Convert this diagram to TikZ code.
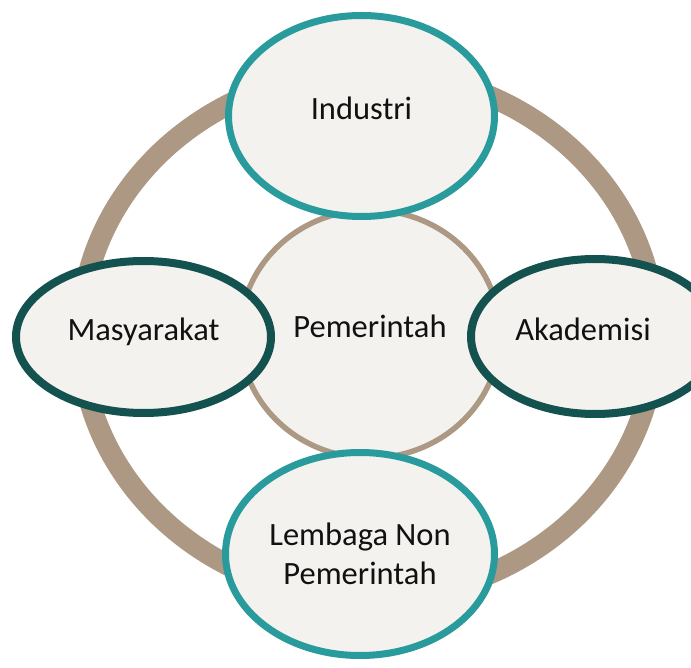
\documentclass[tikz,border=0pt]{standalone}
\usepackage{fontspec}
\setmainfont{Carlito}
\usetikzlibrary{shapes.geometric}
\definecolor{ringtan}{RGB}{173,153,131}
\definecolor{tealA}{RGB}{41,155,157}
\definecolor{tealD}{RGB}{20,82,80}
\definecolor{nodefill}{RGB}{243,242,239}
\definecolor{txt}{RGB}{17,17,17}
\tikzset{
  lbl/.style={text=txt, font=\fontsize{32.5}{38.5}\selectfont},
  blob/.style={ellipse, fill=nodefill, inner sep=0pt, lbl, text height=0.644em, text depth=0pt},
  lightblob/.style={blob, draw=tealA, line width=7pt},
  darkblob/.style={blob, draw=tealD, line width=8pt},
}
\begin{document}
\begin{tikzpicture}[x=1pt, y=-1pt]
\useasboundingbox (0,0) rectangle (691,668);
\clip (0,0) rectangle (691,668);
\fill[white] (0,0) rectangle (691,668);
% outer ring
\node[ellipse, draw=ringtan, line width=21pt, minimum width=575pt, minimum height=527pt, inner sep=0pt] (ring) at (368,335) {};
% centre
\node[blob, draw=ringtan, line width=5.5pt, minimum width=260pt, minimum height=248pt] (pem) at (370,334) {Pemerintah};
% satellites
\node[lightblob, minimum width=266pt, minimum height=201pt] (ind) at (361.5,116) {Industri};
\node[lightblob, minimum width=269pt, minimum height=203pt, align=center, text height=, text depth=] (lem) at (360,554) {Lembaga Non\\Pemerintah};
\node[darkblob, minimum width=255pt, minimum height=152pt] (mas) at (143.5,337) {Masyarakat};
\node[darkblob, minimum width=248pt, minimum height=155pt] (aka) at (595,336.5) {};
\node[lbl, text height=0.644em, text depth=0pt, inner sep=0pt] (akat) at (583,337.5) {Akademisi};
\end{tikzpicture}
\end{document}
